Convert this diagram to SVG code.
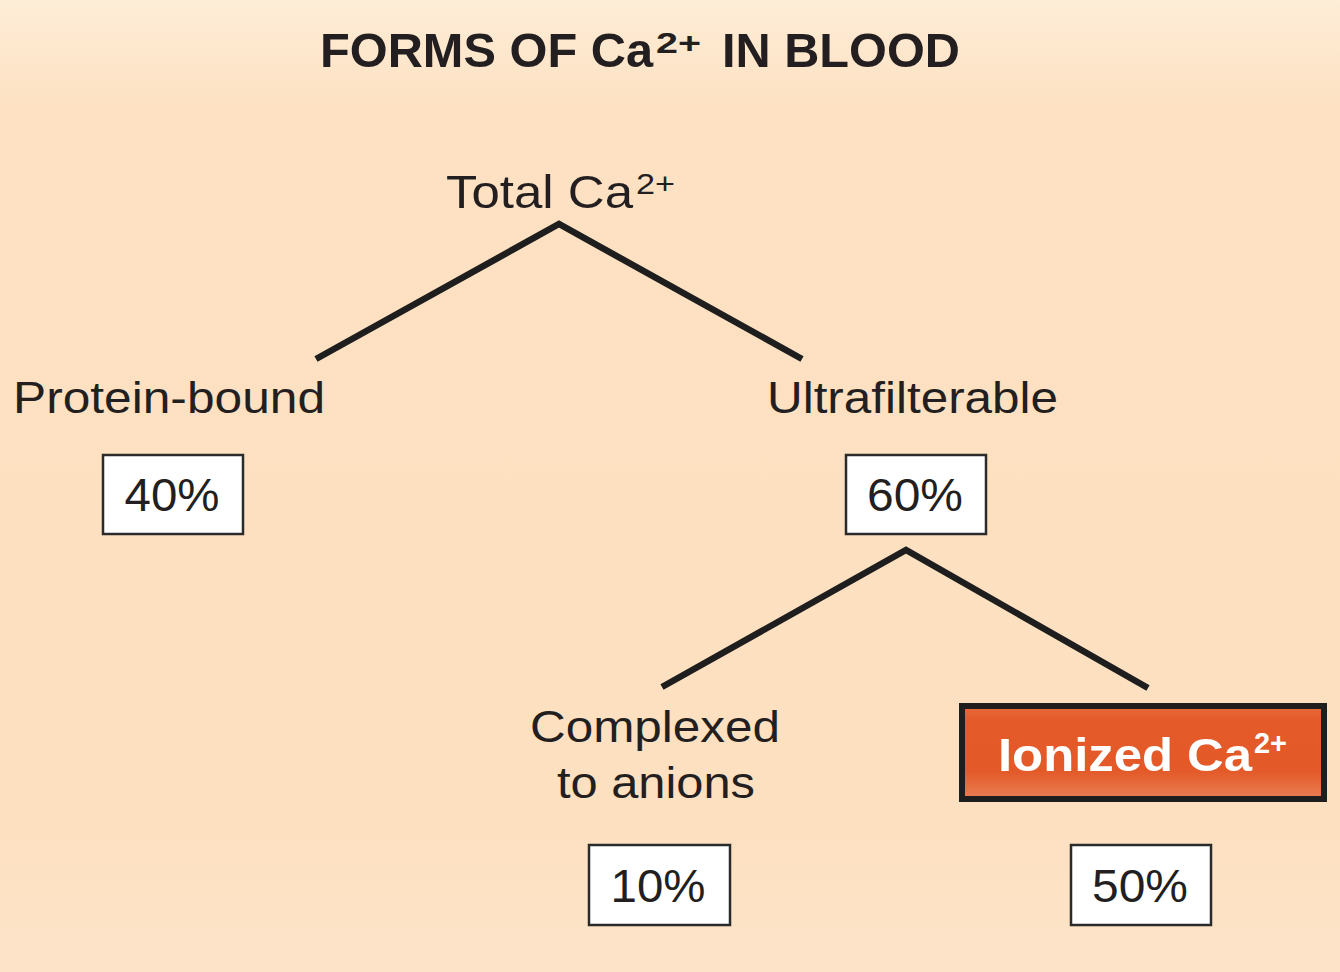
<svg xmlns="http://www.w3.org/2000/svg" width="1340" height="972" viewBox="0 0 1340 972">
  <defs>
    <linearGradient id="bg" x1="0" y1="0" x2="0" y2="1">
      <stop offset="0" stop-color="#FEEDD7"/>
      <stop offset="0.11" stop-color="#FDE1C2"/>
      <stop offset="0.85" stop-color="#FDE0C0"/>
      <stop offset="1" stop-color="#FDE4C9"/>
    </linearGradient>
    <linearGradient id="orange" x1="0" y1="0" x2="0" y2="1">
      <stop offset="0" stop-color="#E86A3A"/>
      <stop offset="0.15" stop-color="#E45B29"/>
      <stop offset="0.7" stop-color="#E35A28"/>
      <stop offset="1" stop-color="#EA7E55"/>
    </linearGradient>
    <style>
      .lbl { font-family: "Liberation Sans", Arial, sans-serif; fill: #231F20; }
      .title { font-weight: bold; font-size: 49px; }
      .node { font-size: 45px; }
      .pct { font-size: 47px; text-anchor: middle; }
      .box { fill: #FFFFFF; stroke: #2B2B2B; stroke-width: 2.5; }
      .conn { fill: none; stroke: #1E1E1E; stroke-width: 6.5; stroke-linejoin: miter; }
    </style>
  </defs>
  <rect x="0" y="0" width="1340" height="972" fill="url(#bg)"/>

  <g id="title">
    <text class="lbl title" x="320" y="67" textLength="333" lengthAdjust="spacingAndGlyphs">FORMS OF Ca</text>
    <text class="lbl" x="656" y="53" font-size="29" font-weight="bold" textLength="45" lengthAdjust="spacingAndGlyphs">2+</text>
    <text class="lbl title" x="722" y="67" textLength="238" lengthAdjust="spacingAndGlyphs">IN BLOOD</text>
  </g>

  <g id="connectors">
    <polyline class="conn" points="316,359 559,224 802,359"/>
    <polyline class="conn" points="662,687 906,550 1148,688"/>
  </g>

  <g id="total">
    <text class="lbl" x="446" y="208" font-size="47" textLength="187" lengthAdjust="spacingAndGlyphs">Total Ca</text>
    <text class="lbl" x="636" y="194" font-size="30" textLength="39" lengthAdjust="spacingAndGlyphs">2+</text>
  </g>

  <g id="protein-bound">
    <text class="lbl node" x="13" y="413" textLength="312" lengthAdjust="spacingAndGlyphs">Protein-bound</text>
    <rect class="box" x="103" y="455" width="140" height="79"/>
    <text class="lbl pct" x="172" y="511" textLength="95" lengthAdjust="spacingAndGlyphs">40%</text>
  </g>

  <g id="ultrafilterable">
    <text class="lbl node" x="767" y="413" textLength="291" lengthAdjust="spacingAndGlyphs">Ultrafilterable</text>
    <rect class="box" x="846" y="455" width="140" height="79"/>
    <text class="lbl pct" x="915" y="511" textLength="96" lengthAdjust="spacingAndGlyphs">60%</text>
  </g>

  <g id="complexed">
    <text class="lbl node" x="530" y="742" textLength="250" lengthAdjust="spacingAndGlyphs">Complexed</text>
    <text class="lbl node" x="557" y="798" textLength="198" lengthAdjust="spacingAndGlyphs">to anions</text>
    <rect class="box" x="589" y="845" width="141" height="80"/>
    <text class="lbl pct" x="658" y="902" textLength="95" lengthAdjust="spacingAndGlyphs">10%</text>
  </g>

  <g id="ionized">
    <rect x="962" y="706" width="362" height="93" fill="url(#orange)" stroke="#1E1E1E" stroke-width="6"/>
    <text x="998" y="771" font-family="Liberation Sans, Arial, sans-serif" font-weight="bold" font-size="47" fill="#FFFFFF" textLength="254" lengthAdjust="spacingAndGlyphs">Ionized Ca</text>
    <text x="1254" y="753" font-family="Liberation Sans, Arial, sans-serif" font-weight="bold" font-size="29" fill="#FFFFFF" textLength="33" lengthAdjust="spacingAndGlyphs">2+</text>
    <rect class="box" x="1071" y="845" width="140" height="80"/>
    <text class="lbl pct" x="1140" y="902" textLength="96" lengthAdjust="spacingAndGlyphs">50%</text>
  </g>
</svg>
